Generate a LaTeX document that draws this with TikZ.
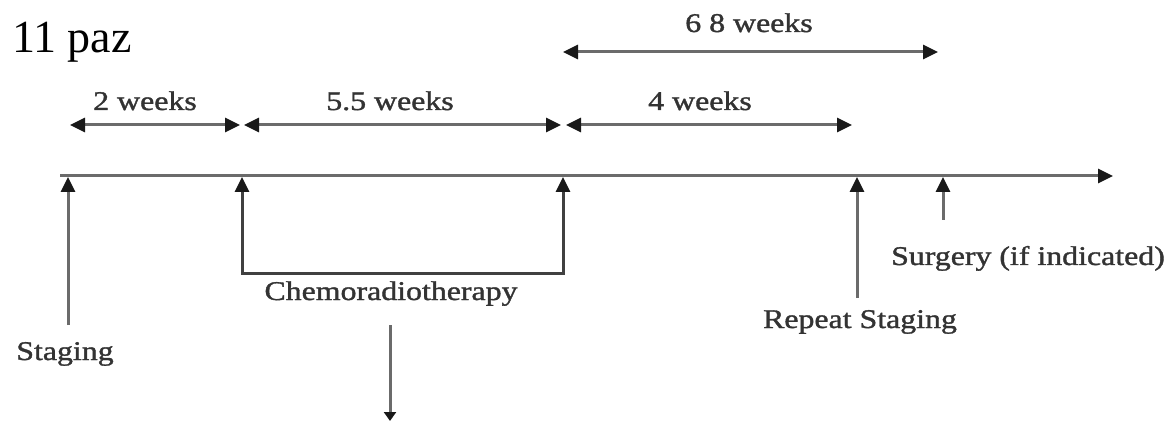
\documentclass[tikz,border=0pt]{standalone}
\usepackage{fontspec}
\setmainfont{Liberation Serif}
\newfontfamily\lblfont[FakeBold=1.2]{Liberation Serif}
\usepackage{graphicx}
\usetikzlibrary{arrows.meta}
\newcommand{\widetext}[1]{\scalebox{1.18}[1]{#1}}
\begin{document}
\begin{tikzpicture}[x=1pt,y=-1pt,
  line/.style={draw=black!58, line width=3pt},
  frame/.style={draw=black!75, line width=3pt},
  tipup/.style={-{Triangle[length=15pt,width=14pt,color=black!90]}},
  tipsmall/.style={-{Triangle[length=9pt,width=12pt,color=black!90]}},
  both/.style={{Triangle[length=15pt,width=14pt,color=black!90]}-{Triangle[length=15pt,width=14pt,color=black!90]}},
  lbl/.style={font=\lblfont\fontsize{27}{32}\selectfont, text=black!80, inner sep=0pt, anchor=base},
]
\useasboundingbox (0,0) rectangle (1173,422);

% timeline
\coordinate (t0) at (60,176);
\coordinate (tend) at (1113,176);
\draw[line,tipup] (t0) -- (tend);

% marker tips on the timeline and their lower ends
\coordinate (tS) at (68,177);
\coordinate (tC1) at (242,177);
\coordinate (tC2) at (563,177);
\coordinate (tR) at (857,177);
\coordinate (tU) at (943,177);
\coordinate (bS) at (68,325);
\coordinate (bC1) at (242,274);
\coordinate (bC2) at (563,274);
\coordinate (bR) at (857,298);
\coordinate (bU) at (943,220);

\draw[line,tipup] (bS) -- (tS);
\draw[frame,both] (tC1) -- (bC1) -- (bC2) -- (tC2);
\draw[line,tipup] (bR) -- (tR);
\draw[line,tipup] (bU) -- (tU);

% down arrow below chemoradiotherapy
\coordinate (d1) at (390,325);
\coordinate (d2) at (390,421);
\draw[line,tipsmall] (d1) -- (d2);

% interval arrows
\coordinate (a0) at (70,125);
\coordinate (a1) at (240,125);
\coordinate (a2) at (244,125);
\coordinate (a3) at (561,125);
\coordinate (a4) at (566,125);
\coordinate (a5) at (852,125);
\coordinate (b0) at (563,52);
\coordinate (b1) at (938,52);
\draw[line,both] (a0) -- (a1);
\draw[line,both] (a2) -- (a3);
\draw[line,both] (a4) -- (a5);
\draw[line,both] (b0) -- (b1);

% labels
\node[font=\fontsize{46}{50}\selectfont, anchor=base west, inner sep=0pt] (title) at (12,53) {11 paz};
\node[lbl] (w2) at (145,110) {\widetext{2 weeks}};
\node[lbl] (w55) at (390,110) {\widetext{5.5 weeks}};
\node[lbl] (w4) at (700,110) {\widetext{4 weeks}};
\node[lbl] (w68) at (749,32) {\widetext{6 8 weeks}};
\node[lbl] (chemo) at (391,300) {\widetext{Chemoradiotherapy}};
\node[lbl] (stag) at (65,360) {\widetext{Staging}};
\node[lbl] (rep) at (860,328) {\widetext{Repeat Staging}};
\node[lbl] (surg) at (1028,265) {\widetext{Surgery (if indicated)}};
\end{tikzpicture}
\end{document}
